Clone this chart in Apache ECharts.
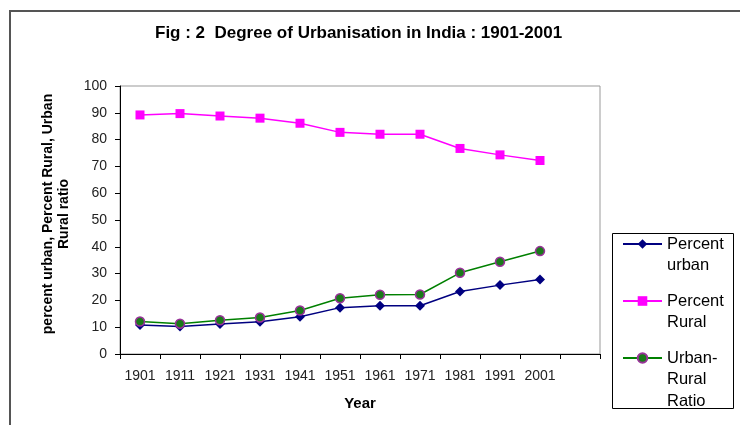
<!DOCTYPE html>
<html>
<head>
<meta charset="utf-8">
<script src="https://cdn.jsdelivr.net/npm/echarts@6/dist/echarts.min.js"></script>
<style>html,body{margin:0;padding:0;background:#fff;}#c{width:740px;height:425px;}</style>
</head>
<body>
<div id="c"></div>
<script>
const years = ['1901','1911','1921','1931','1941','1951','1961','1971','1981','1991','2001',''];
const percentUrban = [10.8, 10.3, 11.2, 12.0, 13.9, 17.3, 18.0, 18.0, 23.3, 25.7, 27.8];
const percentRural = [89.2, 89.7, 88.8, 88.0, 86.1, 82.7, 82.0, 82.0, 76.7, 74.3, 72.2];
const urbanRuralRatio = [12.1, 11.3, 12.6, 13.6, 16.2, 20.8, 22.1, 22.2, 30.3, 34.4, 38.4];
const yTicks = {min: 0, max: 100, interval: 10};

const chart = echarts.init(document.getElementById('c'), null, {renderer: 'canvas'});
const F = 'Liberation Sans, Arial, sans-serif';
const lh = 21.5;
function legendFor(name, text, iconY, lines) {
  const n = 2 * lines - 1;
  const blanks = '\n'.repeat(lines - 1);
  return {
    data: [name],
    orient: 'vertical',
    left: 622,
    top: iconY - n * lh / 2,
    padding: 0,
    itemWidth: 39,
    itemHeight: 12,
    formatter: () => blanks + text,
    textStyle: {fontFamily: F, fontSize: 16.5, color: '#000', lineHeight: lh}
  };
}
chart.setOption({
  animation: false,
  backgroundColor: '#fff',
  title: {
    text: 'Fig : 2  Degree of Urbanisation in India : 1901-2001',
    left: 150, top: 20,
    textStyle: {fontFamily: F, fontSize: 17, fontWeight: 'bold', color: '#000'}
  },
  grid: {left: 120, right: 140, top: 86, bottom: 71, show: true, borderColor: '#999', borderWidth: 1},
  legend: [
    legendFor('Percent urban', 'Percent\nurban', 244, 2),
    legendFor('Percent Rural', 'Percent\nRural', 301, 2),
    legendFor('Urban-Rural Ratio', 'Urban-\nRural\nRatio', 358, 3)
  ],
  xAxis: {
    type: 'category', data: years, boundaryGap: true,
    name: 'Year', nameLocation: 'middle', nameGap: 42,
    nameTextStyle: {fontFamily: F, fontSize: 15, fontWeight: 'bold', color: '#000'},
    axisLine: {lineStyle: {color: '#000', width: 1}},
    axisTick: {show: true, length: 5, alignWithLabel: false, lineStyle: {color: '#000'}},
    axisLabel: {fontFamily: F, fontSize: 14, color: '#222', margin: 15, interval: 0},
    splitLine: {show: false}
  },
  yAxis: {
    type: 'value', min: yTicks.min, max: yTicks.max, interval: yTicks.interval,
    name: 'percent urban, Percent Rural, Urban\nRural ratio',
    nameLocation: 'middle', nameRotate: 90, nameGap: 48,
    nameTextStyle: {fontFamily: F, fontSize: 14, fontWeight: 'bold', color: '#000', lineHeight: 16, padding: [0, 0, 0, 12]},
    axisLine: {show: true, lineStyle: {color: '#000', width: 1}},
    axisTick: {show: true, length: 5, lineStyle: {color: '#000'}},
    axisLabel: {fontFamily: F, fontSize: 14, color: '#222', margin: 13},
    splitLine: {show: false}
  },
  series: [
    {
      name: 'Percent urban', type: 'line', data: percentUrban,
      symbol: 'diamond', symbolSize: 10,
      lineStyle: {color: '#000080', width: 1.5},
      itemStyle: {color: '#000080'}
    },
    {
      name: 'Percent Rural', type: 'line', data: percentRural,
      symbol: 'rect', symbolSize: 9,
      lineStyle: {color: '#FF00FF', width: 1.5},
      itemStyle: {color: '#FF00FF'}
    },
    {
      name: 'Urban-Rural Ratio', type: 'line', data: urbanRuralRatio,
      symbol: 'circle', symbolSize: 9,
      lineStyle: {color: '#008000', width: 1.5},
      itemStyle: {color: '#1a7a1a', borderColor: '#993399', borderWidth: 1.5}
    }
  ],
  graphic: [
    {type: 'polyline', shape: {points: [[10, 425], [10, 11], [740, 11]]}, style: {stroke: '#555', lineWidth: 2, fill: null}, silent: true},
    {type: 'rect', shape: {x: 612.5, y: 233.5, width: 121, height: 175}, style: {stroke: '#000', lineWidth: 1, fill: null}, silent: true, z: -1}
  ]
});
</script>
</body>
</html>
